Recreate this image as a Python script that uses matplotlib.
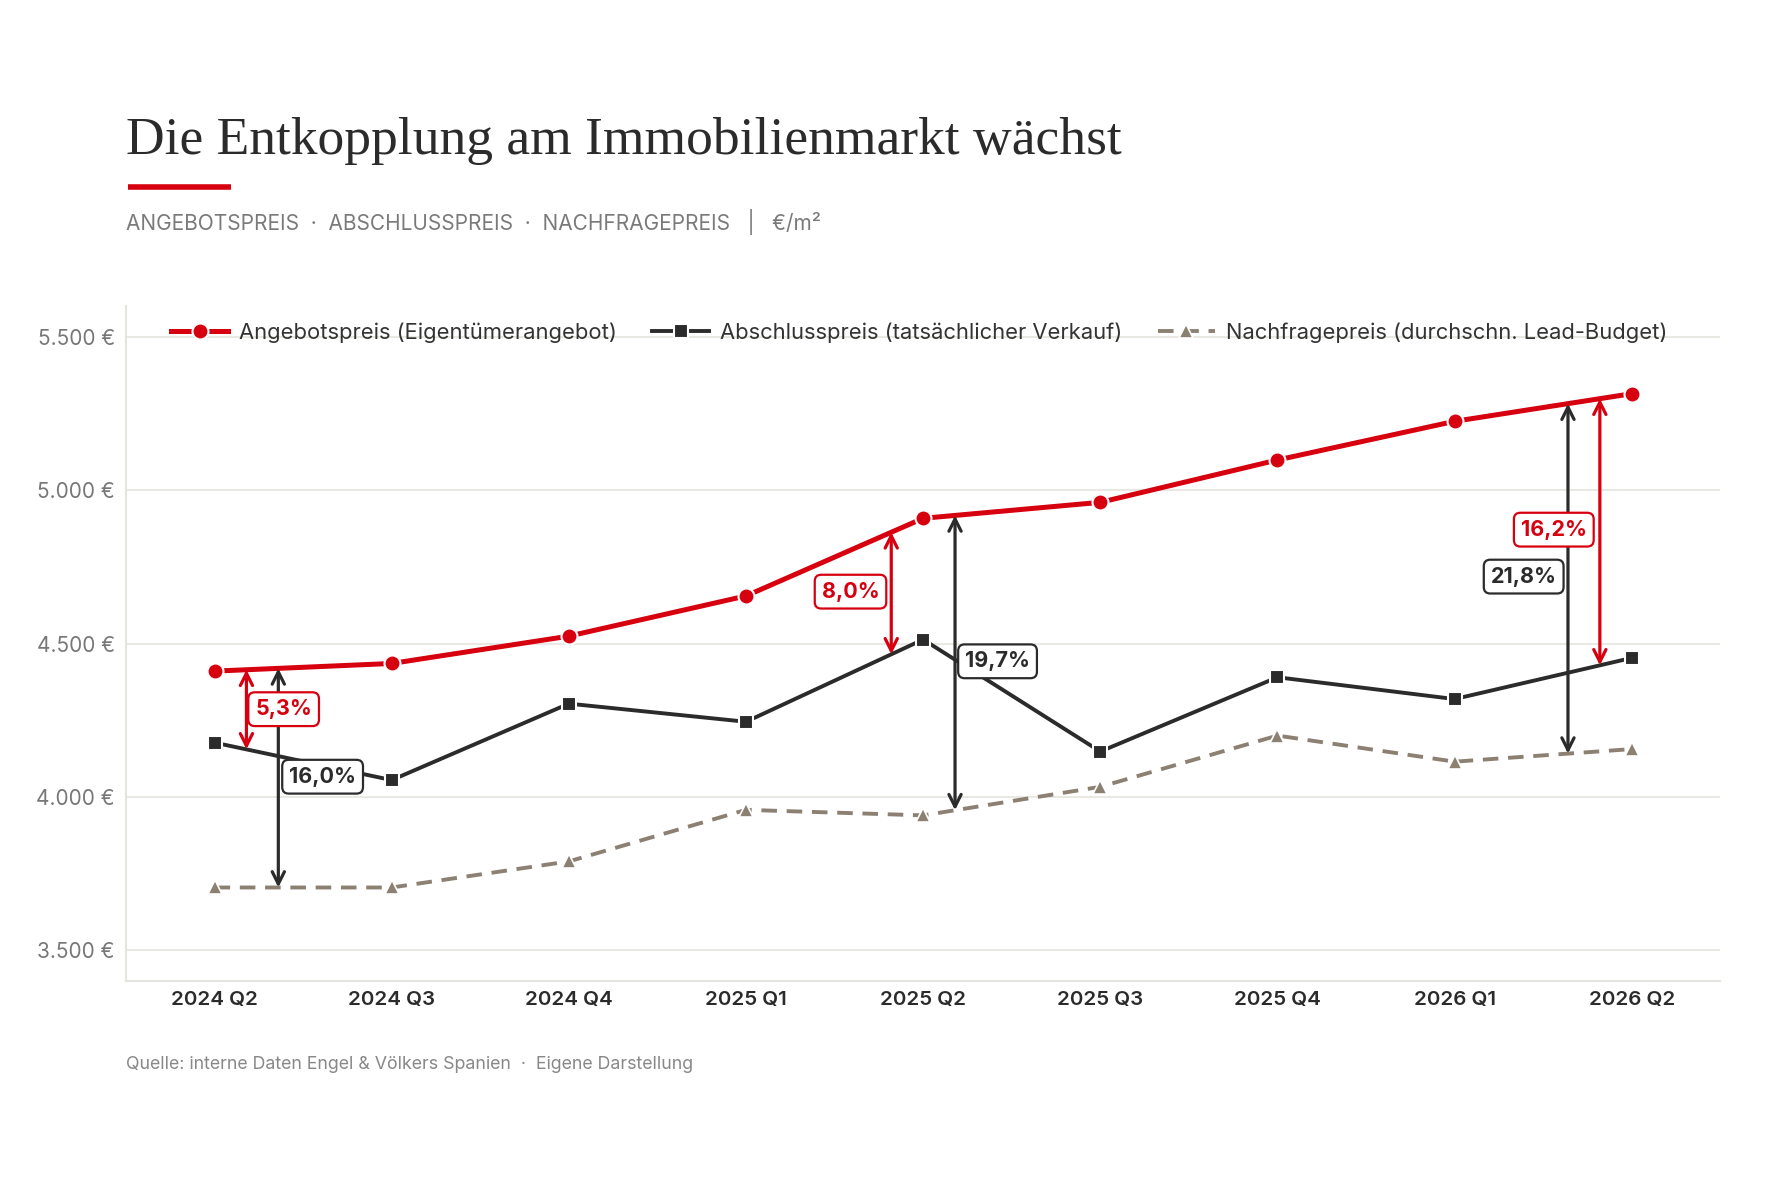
# plot.py
# Angebots-, Abschluss- und Nachfragepreis pro m² (Spanien), 2024 Q2 bis 2026 Q2

import numpy as np
import matplotlib.pyplot as plt

quarters = ['2024 Q2', '2024 Q3', '2024 Q4', '2025 Q1', '2025 Q2',
            '2025 Q3', '2025 Q4', '2026 Q1', '2026 Q2']
angebot = [4410, 4435, 4524, 4655, 4908, 4960, 5098, 5224, 5314]
abschluss = [4177, 4055, 4304, 4245, 4513, 4148, 4390, 4319, 4453]
nachfrage = [3705, 3705, 3790, 3958, 3940, 4033, 4200, 4115, 4156]

yticks = [3500, 4000, 4500, 5000, 5500]

# gap annotations: (arrow x, label, label x, label y)
gaps_red = [(0.18, '5,3%', 0.39, 4286), (3.82, '8,0%', 3.59, 4669), (7.82, '16,2%', 7.56, 4871)]
gaps_blk = [(0.36, '16,0%', 0.61, 4066), (4.18, '19,7%', 4.42, 4442), (7.64, '21,8%', 7.39, 4718)]

RED = '#d7000f'
BLK = '#2b2b2b'
TAUPE = '#8c8073'
GRID = '#e6e4de'

plt.rcParams['font.family'] = ['Inter', 'DejaVu Sans']

fig = plt.figure(figsize=(17.92, 11.95), dpi=100)
ax = fig.add_axes([0.0703, 0.179, 0.8897, 0.565])

x = np.arange(len(quarters))

ax.plot(x, nachfrage, color=TAUPE, lw=2.8, ls=(0, (4, 2.5)), marker='^', ms=10.5,
        mec='white', mew=1.2, label='Nachfragepreis (durchschn. Lead-Budget)', zorder=3)
ax.plot(x, abschluss, color=BLK, lw=2.8, marker='s', ms=10.5,
        mec='white', mew=1.5, label='Abschlusspreis (tatsächlicher Verkauf)', zorder=4)
ax.plot(x, angebot, color=RED, lw=3.6, marker='o', ms=11.5,
        mec='white', mew=1.5, label='Angebotspreis (Eigentümerangebot)', zorder=5)

def arrow(xp, top, bot, col, lab, lx, ly):
    yt = np.interp(xp, x, top)
    yb = np.interp(xp, x, bot)
    ax.annotate('', xy=(xp, yt), xytext=(xp, yb),
                arrowprops=dict(arrowstyle='<->', color=col, lw=2.3,
                                shrinkA=0, shrinkB=0, mutation_scale=22), zorder=6)
    ax.text(lx, ly, lab, color=col, fontsize=15.5, fontweight='bold', ha='center', va='center',
            bbox=dict(boxstyle='round,pad=0.32,rounding_size=0.3', fc='white', ec=col, lw=1.6),
            zorder=7)

for xp, lab, lx, ly in gaps_blk:
    arrow(xp, angebot, nachfrage, BLK, lab, lx, ly)
for xp, lab, lx, ly in gaps_red:
    arrow(xp, angebot, abschluss, RED, lab, lx, ly)

ax.set_xlim(-0.5, 8.5)
ax.set_ylim(3400, 5600)
ax.set_xticks(x)
ax.set_xticklabels(quarters, fontsize=14.8, color=BLK, fontweight='semibold')
ax.set_yticks(yticks)
ax.set_yticklabels([f'{v:,}'.replace(',', '.') + ' €' for v in yticks], fontsize=15, color='#777777')
ax.tick_params(axis='x', length=0, pad=7)
ax.tick_params(axis='y', length=0, pad=8)
ax.grid(axis='y', color=GRID, lw=1.2)
ax.set_axisbelow(True)
for s in ['top', 'right']:
    ax.spines[s].set_visible(False)
for s in ['left', 'bottom']:
    ax.spines[s].set_color(GRID)
    ax.spines[s].set_linewidth(1.5)

h, l = ax.get_legend_handles_labels()
leg = ax.legend(h[::-1], l[::-1], ncol=3, loc='upper left', bbox_to_anchor=(0.016, 1.005),
                frameon=False, fontsize=15.8, handlelength=2.6, columnspacing=1.6,
                handletextpad=0.5)
for t in leg.get_texts():
    t.set_color('#333333')

fig.text(0.0703, 0.871, 'Die Entkopplung am Immobilienmarkt wächst', fontsize=38.5,
         family='Liberation Serif', color='#2b2b2b', va='baseline')
fig.add_artist(plt.Line2D([0.0715, 0.129], [0.8435, 0.8435], color=RED, lw=4,
                          solid_capstyle='butt'))
fig.text(0.0703, 0.814, 'ANGEBOTSPREIS  ·  ABSCHLUSSPREIS  ·  NACHFRAGEPREIS   |   €/m²',
         fontsize=15, color='#7a7a7a', va='center')
fig.text(0.0703, 0.109, 'Quelle: interne Daten Engel & Völkers Spanien  ·  Eigene Darstellung',
         fontsize=12.8, color='#888888', va='center')

fig.savefig('out.png', dpi=100, facecolor='white')
